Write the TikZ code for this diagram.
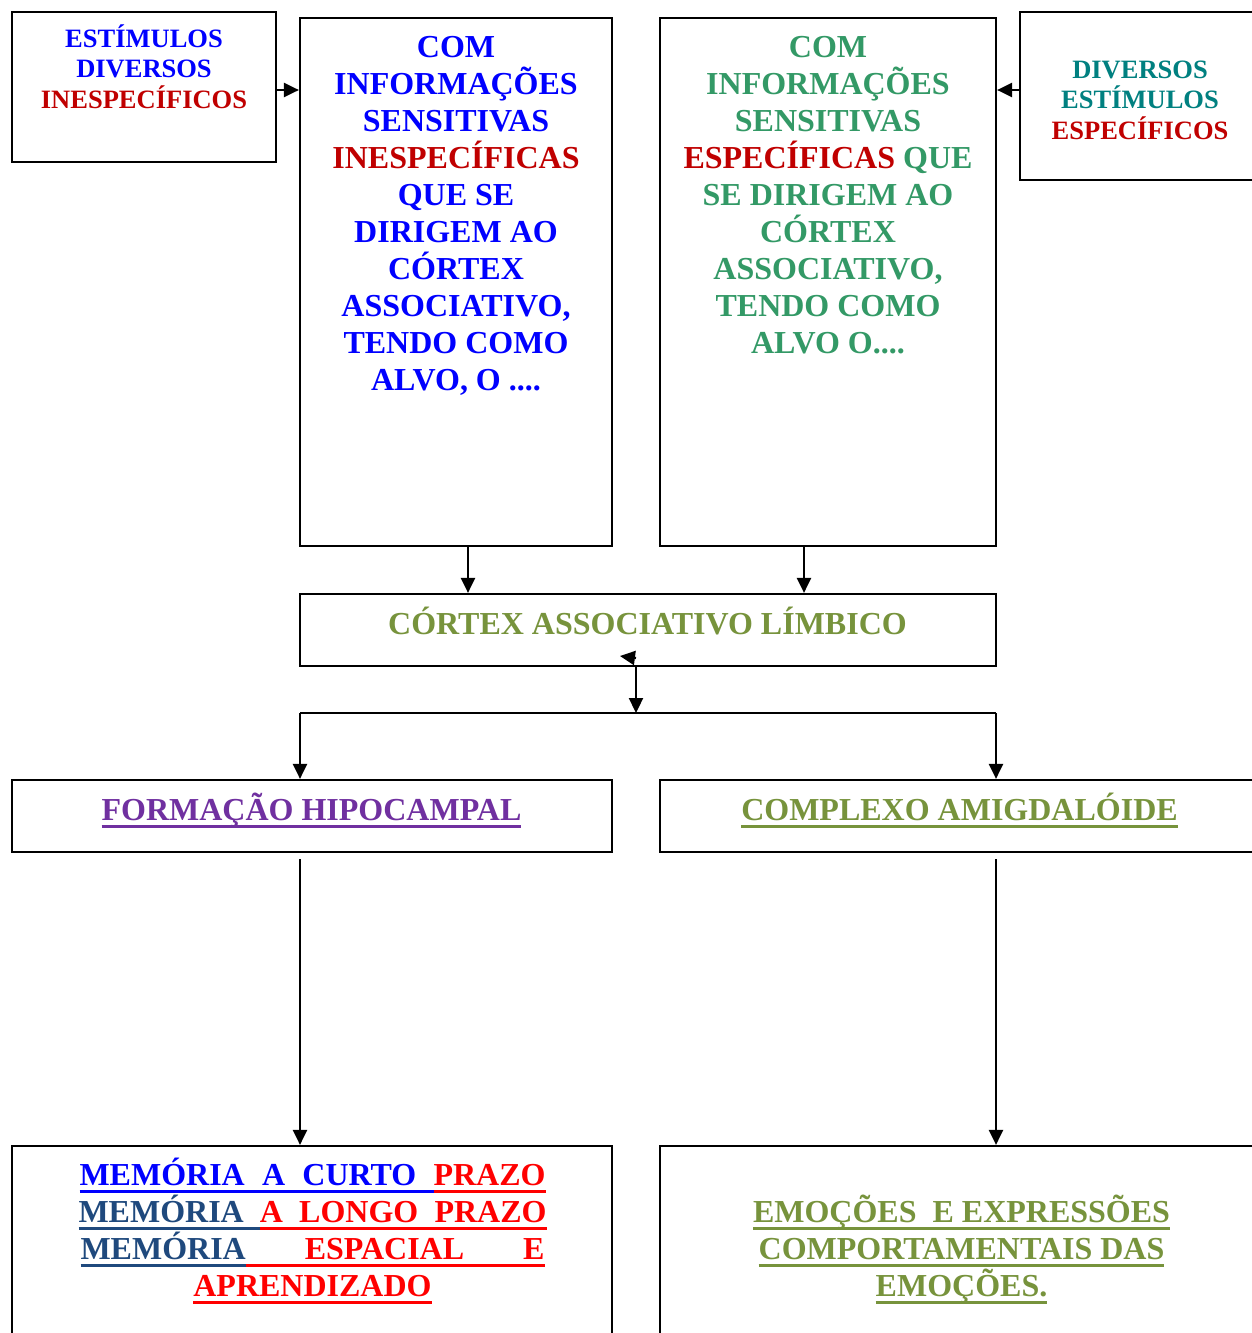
\documentclass[tikz,border=0pt]{standalone}
\usepackage{fontspec}
\setmainfont{Liberation Serif}
\usetikzlibrary{arrows.meta,calc}

\definecolor{pureblue}{HTML}{0000FF}
\definecolor{darkred}{HTML}{C00000}
\definecolor{seagreen}{HTML}{339966}
\definecolor{tealc}{HTML}{008080}
\definecolor{olive}{HTML}{77933C}
\definecolor{purplec}{HTML}{7030A0}
\definecolor{navyc}{HTML}{1F497D}
\definecolor{redc}{HTML}{FF0000}

% underlined word in a given colour (rule at a fixed depth below the baseline)
\newcommand\ulseg[2]{\setbox0=\hbox{\textcolor{#1}{#2}}%
  \rlap{\textcolor{#1}{\vrule height -4pt depth 7pt width \wd0}}\box0}
% stretchable underlined gap
\newcommand\ulgap[1]{{\color{#1}\leaders\vrule height -4pt depth 7pt\hfill}}

\begin{document}
\begin{tikzpicture}[x=1pt,y=-1pt,
  box/.style={draw=black,line width=2.2pt,inner sep=0pt,fill=none},
  big/.style={inner sep=0pt,align=center,anchor=north,
    font=\fontsize{32pt}{37pt}\selectfont\bfseries},
  small/.style={inner sep=0pt,align=center,anchor=north,
    font=\fontsize{26.5pt}{30.5pt}\selectfont\bfseries},
  arr/.style={line width=2.3pt,-{Triangle[width=14pt,length=15pt]}},
  wire/.style={line width=2.3pt}]

\useasboundingbox (0,0) rectangle (1252,1333);
\clip (0,0) rectangle (1252,1333);
\fill[white] (0,0) rectangle (1252,1333);

% frames
\node[box,minimum width=264pt,minimum height=150pt] (a) at (144,87) {};
\node[box,minimum width=312pt,minimum height=528pt] (b) at (456,282) {};
\node[box,minimum width=336pt,minimum height=528pt] (c) at (828,282) {};
\node[box,minimum width=242pt,minimum height=168pt] (d) at (1141,96) {};
\node[box,minimum width=696pt,minimum height=72pt] (e) at (648,630) {};
\node[box,minimum width=600pt,minimum height=72pt] (f) at (312,816) {};
\node[box,minimum width=602pt,minimum height=72pt] (g) at (961,816) {};
\node[box,minimum width=600pt,minimum height=199pt] (h) at (312,1245.5) {};
\node[box,minimum width=602pt,minimum height=199pt] (i) at (961,1245.5) {};

% texts
\node[small] (ta) at (144,46.8-25) {\rule{0pt}{25pt}\textcolor{pureblue}{ESTÍMULOS}\\
  \textcolor{pureblue}{DIVERSOS}\\ \textcolor{darkred}{INESPECÍFICOS}};

\node[big] (tb) at (456,57.6-30) {\rule{0pt}{30pt}\color{pureblue}COM\\
  \color{pureblue}INFORMAÇÕES\\ \color{pureblue}SENSITIVAS\\
  \color{darkred}INESPECÍFICAS\\ \color{pureblue}QUE SE\\
  \color{pureblue}DIRIGEM AO\\ \color{pureblue}CÓRTEX\\
  \color{pureblue}ASSOCIATIVO,\\ \color{pureblue}TENDO COMO\\
  \color{pureblue}ALVO, O ....};

\node[big] (tc) at (828,57.6-30) {\rule{0pt}{30pt}\color{seagreen}COM\\
  \color{seagreen}INFORMAÇÕES\\ \color{seagreen}SENSITIVAS\\
  \textcolor{darkred}{ESPECÍFICAS} \textcolor{seagreen}{QUE}\\
  \color{seagreen}SE DIRIGEM AO\\ \color{seagreen}CÓRTEX\\
  \color{seagreen}ASSOCIATIVO,\\ \color{seagreen}TENDO COMO\\
  \color{seagreen}ALVO O....};

\node[small] (td) at (1140,77.8-25) {\rule{0pt}{25pt}\textcolor{tealc}{DIVERSOS}\\
  \textcolor{tealc}{ESTÍMULOS}\\ \textcolor{darkred}{ESPECÍFICOS}};

\node[big] (te) at (647.5,634.6-30) {\rule{0pt}{30pt}\textcolor{olive}{CÓRTEX ASSOCIATIVO LÍMBICO}};

\node[big] (tf) at (311.5,820.6-30) {\rule{0pt}{30pt}\ulseg{purplec}{FORMAÇÃO HIPOCAMPAL}};
\node[big] (tg) at (959.5,820.6-30) {\rule{0pt}{30pt}\ulseg{olive}{COMPLEXO AMIGDALÓIDE}};

\node[big] (th) at (312.5,1185.6-30) {%
  \hbox to 466pt{\rule{0pt}{30pt}\ulseg{pureblue}{MEMÓRIA}\ulgap{pureblue}\ulseg{pureblue}{A}%
    \ulgap{pureblue}\ulseg{pureblue}{CURTO}\ulgap{pureblue}\ulseg{redc}{PRAZO}}\\
  \hbox to 468pt{\ulseg{navyc}{MEMÓRIA}\ulgap{navyc}\ulseg{redc}{A}%
    \ulgap{redc}\ulseg{redc}{LONGO}\ulgap{redc}\ulseg{redc}{PRAZO}}\\
  \hbox to 464pt{\ulseg{navyc}{MEMÓRIA}\ulgap{redc}\ulseg{redc}{ESPACIAL}%
    \ulgap{redc}\ulseg{redc}{E}}\\
  \ulseg{redc}{APRENDIZADO}};

\node[big] (ti) at (961.5,1222.6-30) {\rule{0pt}{30pt}\ulseg{olive}{EMOÇÕES\ \ E EXPRESSÕES}\\
  \ulseg{olive}{COMPORTAMENTAIS DAS}\\ \ulseg{olive}{EMOÇÕES.}};

% connectors
\draw[arr] (a.east |- 0,90) -- (b.west |- 0,90);
\draw[arr] (d.west |- 0,90) -- (c.east |- 0,90);
\draw[arr] (b.south -| 468,0) -- (e.north -| 468,0);
\draw[arr] (c.south -| 804,0) -- (e.north -| 804,0);

\coordinate (split) at (636,713);
\coordinate (jl) at (300,713);
\coordinate (jr) at (996,713);
\coordinate (back) at (620,656);
\draw[arr] (e.south -| split) -- (split);
\draw[arr] ($(e.south -| split)+(0,-9)$) -- (back);
\draw[wire] (jl) -- (jr);
\draw[arr] (jl) -- (f.north -| jl);
\draw[arr] (jr) -- (g.north -| jr);
\draw[arr] ($(f.south -| jl)+(0,6)$) -- (h.north -| jl);
\draw[arr] ($(g.south -| jr)+(0,6)$) -- (i.north -| jr);
\end{tikzpicture}
\end{document}
